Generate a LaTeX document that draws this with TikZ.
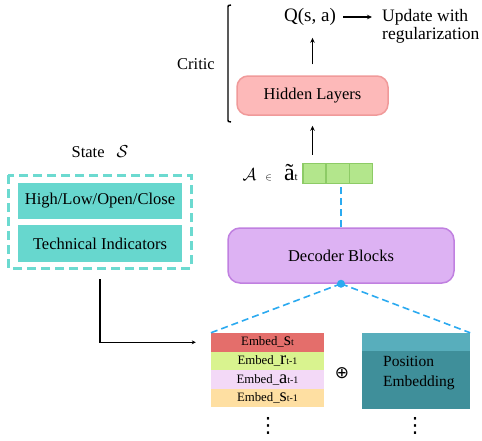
\documentclass[tikz,border=0pt]{standalone}
\usepackage{fontspec}
\setmainfont{Liberation Serif}
\newfontfamily\dejavu{DejaVu Sans}
\usetikzlibrary{arrows.meta,calc}
\definecolor{hlfill}{HTML}{FDB9B9}
\definecolor{hldraw}{HTML}{F09A9A}
\definecolor{decfill}{HTML}{DDB2F3}
\definecolor{decdraw}{HTML}{C080E0}
\definecolor{cellfill}{HTML}{B3E68C}
\definecolor{celldraw}{HTML}{8DCB66}
\definecolor{dashblue}{HTML}{2BAAF0}
\definecolor{tealfill}{HTML}{67D7CE}
\definecolor{tealdraw}{HTML}{6CDAD0}
\definecolor{embA}{HTML}{E46E6B}
\definecolor{embB}{HTML}{D9F38F}
\definecolor{embC}{HTML}{F3D9F7}
\definecolor{embD}{HTML}{FEDFA2}
\definecolor{posA}{HTML}{58AEBC}
\definecolor{posB}{HTML}{3F8F9A}
\tikzset{
  txt/.style={font=\fontsize{16.5}{19}\selectfont, inner sep=0pt},
  arr/.style={line width=1.2pt, -{Stealth[length=5pt,width=4.5pt]}},
  rbox/.style={rounded corners=11pt, line width=1.5pt, font=\fontsize{16.5}{19}\selectfont},
  cellbox/.style={draw=celldraw, fill=cellfill, line width=1.3pt, minimum width=23pt, minimum height=20.5pt, inner sep=0pt},
  bluedash/.style={draw=dashblue, line width=1.6pt, dash pattern=on 7pt off 4pt},
  tealbox/.style={fill=tealfill, minimum width=164pt, minimum height=36.5pt, inner sep=0pt, font=\fontsize{16.5}{19}\selectfont},
  embrow/.style={minimum width=113pt, minimum height=18.6pt, inner sep=0pt},
  vdot/.style={font=\dejavu\fontsize{21}{21}\selectfont, inner sep=0pt},
}
\newcommand{\embtext}[2]{{\fontsize{12.8}{14}\selectfont Embed\_}{\fontsize{18.5}{16}\selectfont #1}{\fontsize{10}{10}\selectfont #2}}
\begin{document}
\begin{tikzpicture}[x=1pt,y=-1pt]
\useasboundingbox (0,0) rectangle (482,440);

% Critic bracket and label
\draw[line width=1.4pt] (231,5) .. controls (228,5) .. (228,9) -- (228,118) .. controls (228,122) .. (231,122);
\node[txt] (critic) at (196,64) {Critic};

% Q and update
\node[txt, font=\fontsize{19}{22}\selectfont] (q) at (310,17) {Q(s, a)};
\node[txt, font=\fontsize{17.5}{18}\selectfont, align=left, anchor=west] (upd) at (382,26) {Update with\\regularization};
\draw[arr] ([xshift=7pt]q.east) -- ([xshift=-10pt]q.east -| upd.west);

% Hidden layers
\node[rbox, draw=hldraw, fill=hlfill, minimum width=151pt, minimum height=39pt] (hl) at (312.5,95.5) {Hidden Layers};
\draw[arr, shorten <=11pt, shorten >=12pt] (hl.north) -- (hl.north |- q.south);

% action cells
\node[cellbox] (c1) at (314.5,173.5) {};
\node[cellbox] (c2) at (337.8,173.5) {};
\node[cellbox] (c3) at (361.2,173.5) {};
\node[txt, anchor=base east] (act) at (298,180) {$\mathcal{A}$\hspace{9pt}{\fontsize{10}{10}\selectfont$\in$}\hspace{12pt}{\fontsize{24}{24}\selectfont ã}{\fontsize{11}{11}\selectfont t}};
\draw[arr, shorten <=8pt, shorten >=10pt] (hl.south |- c1.north) -- (hl.south);

% Decoder
\node[rbox, draw=decdraw, fill=decfill, minimum width=226pt, minimum height=55pt, rounded corners=12pt] (dec) at (341,255.5) {Decoder Blocks};
\draw[bluedash] (dec.north) -- (dec.north |- c2.south);
\fill[dashblue] (dec.south) circle (4pt);
\coordinate (dot) at (dec.south);

% Embedding stack
\node[embrow, fill=embA] (e1) at (267.5,342.3) {\embtext{s}{t}};
\node[embrow, fill=embB] (e2) at (267.5,360.9) {\embtext{r}{t-1}};
\node[embrow, fill=embC] (e3) at (267.5,379.5) {\embtext{a}{t-1}};
\node[embrow, fill=embD] (e4) at (267.5,398.1) {\embtext{s}{t-1}};

\node[txt, font=\dejavu\fontsize{17}{17}\selectfont] (plus) at (342,373) {⊕};

% Position embedding
\node[fill=posA, minimum width=108pt, minimum height=18pt, inner sep=0pt] (p1) at (416,342) {};
\node[fill=posB, minimum width=108pt, minimum height=58pt, inner sep=0pt] (p2) at (416,380) {};
\node[txt, font=\fontsize{15.5}{20}\selectfont, align=left, anchor=west] (ptxt) at (383,373) {Position\\Embedding};

\draw[bluedash] (dot) -- (e1.north west);
\draw[bluedash] (dot) -- (p1.north east);

% dots
\node[vdot] (d1) at (268,425.5) {⋮};
\node[vdot] (d2) at (415,425.5) {⋮};

% State
\node[txt] (state) at (100,152) {State\hspace{12pt}$\mathcal{S}$};
\draw[draw=tealdraw, line width=3pt, dash pattern=on 9pt off 5pt] (8,175) rectangle (191,268);
\coordinate (sbox) at (100,268);
\node[tealbox] (hlo) at (100,201) {High/Low/Open/Close};
\node[tealbox] (ti) at (100,243.5) {Technical Indicators};

\draw[line width=1.2pt, -{Stealth[length=4pt,width=4pt]}, shorten <=11pt, shorten >=15pt] (sbox) |- (e1.west);
\end{tikzpicture}
\end{document}
